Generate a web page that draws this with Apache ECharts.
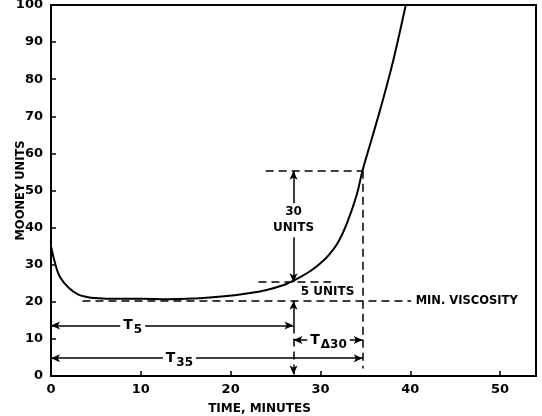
<!DOCTYPE html>
<html>
<head>
<meta charset="utf-8">
<script src="https://cdn.jsdelivr.net/npm/echarts@6/dist/echarts.min.js"></script>
<style>html,body{margin:0;padding:0;background:#fff;}#c{width:542px;height:416px;}</style>
</head>
<body>
<div id="c"></div>
<script>
// Cure curve (time in minutes, Mooney units)
var timeMin = [0, 0.5, 1, 2, 3, 4, 5, 7, 10, 13, 16, 19, 22, 24, 26, 27, 28, 29, 30, 31, 32, 33, 34, 34.7, 35.6, 36.5, 37.3, 38.1, 38.8, 39.5];
var mooney  = [35, 30, 26.7, 23.7, 22, 21.3, 21, 20.8, 20.8, 20.7, 20.9, 21.4, 22.3, 23.2, 24.6, 25.7, 27, 28.5, 30.4, 32.8, 36.2, 41.5, 48.5, 55.5, 63, 70.5, 77.5, 85, 92.3, 100];
// Tick labels
var xTicks = [0, 10, 20, 30, 40, 50];
var yTicks = [0, 10, 20, 30, 40, 50, 60, 70, 80, 90, 100];
// Key values
var minVisc = 20.3;
var t5Level = 25.3;
var t35Level = 55.3;
var t5Time = 27;
var t35Time = 34.7;
// Dashed guide lines [x1,y1,x2,y2]
var dashedLines = [
  [3.5, minVisc, 40.1, minVisc],
  [23.1, t5Level, 31.2, t5Level],
  [23.9, t35Level, t35Time, t35Level],
  [t35Time, t35Level, t35Time, 2],
  [t5Time, 13.6, t5Time, 3]
];
// Solid dimension arrows [x1,y1,x2,y2,startArrow,endArrow]
var arrowLines = [
  [0, 13.6, t5Time, 13.6, 1, 1],
  [0, 4.8, t35Time, 4.8, 1, 1],
  [t5Time, 9.7, t35Time, 9.7, 1, 1],
  [t5Time, t5Level, t5Time, t35Level, 1, 1],
  [t5Time, 13.6, t5Time, minVisc, 0, 1],
  [t5Time, 3, t5Time, 0.4, 0, 1]
];
// Annotation texts [x, y, text, align]
var notes = [
  [t5Time, 42, '30\nUNITS', 'center'],
  [27.8, 22.7, '5 UNITS', 'left'],
  [40.6, minVisc, 'MIN. VISCOSITY', 'left'],
  [9.1, 13.6, '{t|T}{s|5}', 'center'],
  [14.3, 4.8, '{t|T}{s|35}', 'center'],
  [30.9, 9.7, '{t|T}{s|Δ30}', 'center']
];

var FONT = 'DejaVu Sans';
var chart = echarts.init(document.getElementById('c'), null, {renderer: 'canvas'});

var markData = [];
dashedLines.forEach(function (d) {
  markData.push([
    {coord: [d[0], d[1]], symbol: 'none', lineStyle: {type: [8, 5], width: 1.5, color: '#000'}},
    {coord: [d[2], d[3]], symbol: 'none', lineStyle: {type: [8, 5], width: 1.5, color: '#000'}}
  ]);
});
arrowLines.forEach(function (d) {
  markData.push([
    {coord: [d[0], d[1]], symbol: d[4] ? 'arrow' : 'none', symbolSize: [6, 9], lineStyle: {type: 'solid', width: 1.5, color: '#000'}},
    {coord: [d[2], d[3]], symbol: d[5] ? 'arrow' : 'none', symbolSize: [6, 9], lineStyle: {type: 'solid', width: 1.5, color: '#000'}}
  ]);
});

var option = {
  animation: false,
  backgroundColor: '#fff',
  grid: {left: 51, right: 6, top: 5, bottom: 40, containLabel: false, outerBoundsMode: 'none',
         show: true, borderColor: '#000', borderWidth: 2, backgroundColor: 'transparent'},
  xAxis: {
    type: 'value', min: 0, max: 54, interval: 10,
    name: 'TIME, MINUTES', nameLocation: 'middle', nameGap: 27, nameMoveOverlap: false,
    nameTextStyle: {fontFamily: FONT, fontWeight: 'bold', fontSize: 12, color: '#000', padding: [0, 68, 0, 0]},
    axisLine: {show: true, lineStyle: {color: '#000', width: 2}},
    axisTick: {show: true, inside: true, length: 5, lineStyle: {color: '#000', width: 1.5}, customValues: xTicks},
    axisLabel: {fontFamily: FONT, fontWeight: 'bold', fontSize: 13, color: '#000', margin: 7, customValues: xTicks},
    splitLine: {show: false}
  },
  yAxis: {
    type: 'value', min: 0, max: 100, interval: 10,
    name: 'MOONEY UNITS', nameLocation: 'middle', nameGap: 24, nameMoveOverlap: false,
    nameTextStyle: {fontFamily: FONT, fontWeight: 'bold', fontSize: 11.5, color: '#000'},
    axisLine: {show: true, lineStyle: {color: '#000', width: 2}},
    axisTick: {show: true, inside: true, length: 5, lineStyle: {color: '#000', width: 1.5}, customValues: yTicks},
    axisLabel: {fontFamily: FONT, fontWeight: 'bold', fontSize: 13, color: '#000', margin: 8, customValues: yTicks},
    splitLine: {show: false}
  },
  series: [
    {
      type: 'line', name: 'cure',
      data: timeMin.map(function (t, i) { return [t, mooney[i]]; }),
      smooth: 0.45, showSymbol: false, symbol: 'none',
      lineStyle: {color: '#000', width: 2}, z: 3,
      markLine: {silent: true, symbol: 'none', label: {show: false}, data: markData, animation: false, z: 2}
    },
    {
      type: 'scatter', name: 'notes', symbolSize: 0, z: 5, silent: true,
      itemStyle: {opacity: 1},
      data: notes.map(function (n) {
        return {
          value: [n[0], n[1]],
          label: {
            show: true, position: 'inside', formatter: n[2], align: n[3], verticalAlign: 'middle',
            fontFamily: FONT, fontWeight: 'bold', fontSize: (n[2].length > 10 ? 11.5 : 12), color: '#000', lineHeight: 16,
            backgroundColor: (n[3] === 'center') ? '#fff' : 'transparent',
            padding: (n[3] === 'center') ? [1, 3, 1, 3] : 0,
            rich: {
              t: {fontFamily: FONT, fontWeight: 'bold', fontSize: 14, color: '#000', lineHeight: 18},
              s: {fontFamily: FONT, fontWeight: 'bold', fontSize: 12, color: '#000', padding: [9, 0, 0, 1]}
            }
          }
        };
      })
    }
  ]
};
chart.setOption(option);
</script>
</body>
</html>
